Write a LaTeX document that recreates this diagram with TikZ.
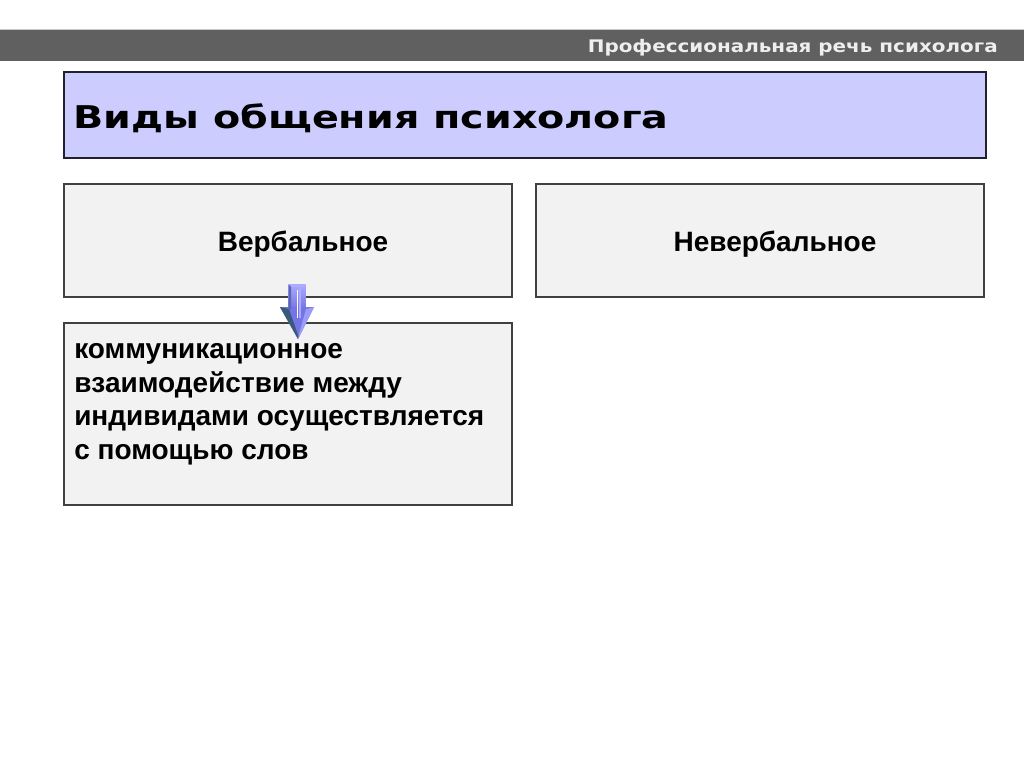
\documentclass[tikz,border=0pt]{standalone}
\usepackage{fontspec}
\setmainfont{Liberation Sans}
\newfontfamily\titlefont[FakeStretch=1.265]{DejaVu Sans}
\newfontfamily\headfont[FakeStretch=1.15]{DejaVu Sans}
\usetikzlibrary{positioning}
\definecolor{bargray}{HTML}{606060}
\definecolor{barline}{HTML}{C8C8C8}
\definecolor{titlefill}{HTML}{CCCCFF}
\definecolor{titleborder}{HTML}{202030}
\definecolor{boxfill}{HTML}{F2F2F2}
\definecolor{boxborder}{HTML}{404040}
\definecolor{headtext}{HTML}{EEEEEE}
\definecolor{arrowblue}{HTML}{7474E6}
\definecolor{arrowlight}{HTML}{ACACFF}
\definecolor{arrowdark}{HTML}{3A5A7A}
\tikzset{
  titlebox/.style={draw=titleborder, line width=1.5pt, fill=titlefill, inner sep=0pt},
  plainbox/.style={draw=boxborder, line width=1.3pt, fill=boxfill, inner sep=0pt},
  bodytext/.style={font=\fontsize{21pt}{25.1pt}\selectfont\bfseries, inner sep=0pt, text=black},
  titletext/.style={font=\titlefont\fontsize{23.5pt}{28pt}\selectfont\bfseries, inner sep=0pt, text=black},
  headertext/.style={font=\headfont\fontsize{13pt}{15pt}\selectfont\bfseries, inner sep=0pt, text=headtext}
}
\begin{document}
\begin{tikzpicture}[x=0.75pt,y=-0.75pt]
\useasboundingbox (0,0) rectangle (1024,768);
\fill[white] (0,0) rectangle (1024,768);
% header bar
\fill[bargray] (0,29.5) rectangle (1024,61);
\draw[barline, line width=0.75pt] (0,29.5) -- (1024,29.5);
\node[headertext, anchor=base east] (header) at (998,52) {Профессиональная речь психолога};
% title
\node[titlebox, minimum width=691.5pt, minimum height=64.5pt] (title) at (525,115) {};
\node[titletext, anchor=base west] (titlelabel) at (73.5,128) {Виды общения психолога};
% boxes
\node[plainbox, minimum width=336pt, minimum height=84.75pt] (verb) at (288,240.5) {};
\node[plainbox, minimum width=336pt, minimum height=84.75pt] (nonverb) at (760,240.5) {};
\node[plainbox, minimum width=336pt, minimum height=136.5pt] (desc) at (288,414) {};
\node[bodytext] (verblabel) at (303,244) {Вербальное};
\node[bodytext] (nonverblabel) at (775,244) {Невербальное};
\node[bodytext, anchor=north west, align=left] (desclabel) at (74,343.5) {коммуникационное\\взаимодействие между\\индивидами осуществляется\\с помощью слов};
% block arrow
\shade[top color=arrowlight, bottom color=arrowblue] (288.5,284) rectangle (305.5,309);
\fill[arrowblue] (280,307) -- (314,307) -- (298,339) -- cycle;
\fill[arrowlight!70!arrowblue] (306,309) -- (314,307) -- (298,339) -- (299,334) -- cycle;
\fill[arrowdark] (280,307) -- (289,309) -- (298,335) -- (298,339) -- cycle;
\fill[arrowlight] (288.5,284) -- (305.5,284) -- (303,287) -- (291,287) -- cycle;
\fill[arrowdark!50!arrowblue] (288.5,284) -- (291,287) -- (291,309) -- (288.5,309) -- cycle;
\draw[white, line width=0.8pt] (297.5,290) -- (297.5,318);
\draw[arrowlight, line width=0.8pt] (300,288) -- (300,318);
\end{tikzpicture}
\end{document}
